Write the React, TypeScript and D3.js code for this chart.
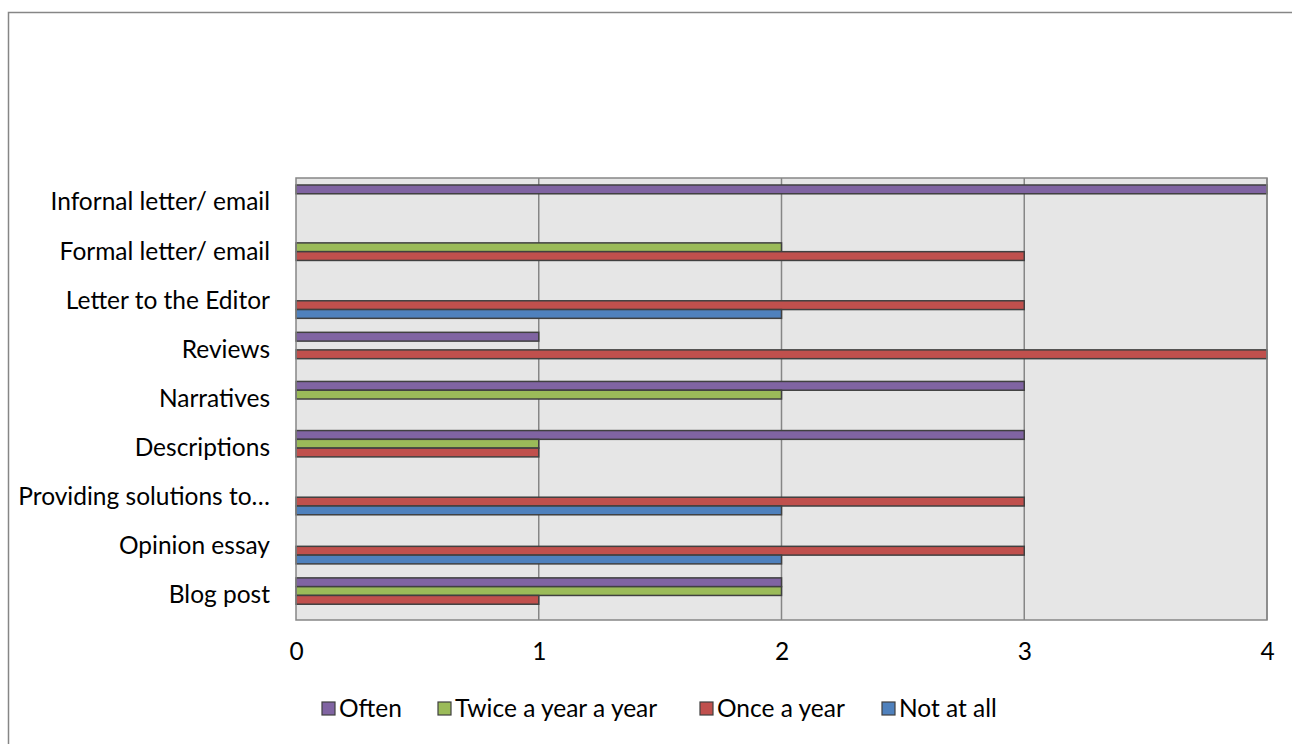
import React, { useEffect, useRef } from "react";
import * as d3 from "d3";

const categories = [
  "Infornal letter/ email",
  "Formal letter/ email",
  "Letter to the Editor",
  "Reviews",
  "Narratives",
  "Descriptions",
  "Providing solutions to…",
  "Opinion essay",
  "Blog post",
];

const seriesNames = ["Often", "Twice a year a year", "Once a year", "Not at all"];
const seriesColors = ["#8064A2", "#9BBB59", "#C0504D", "#4F81BD"];

const often = [4, 0, 0, 1, 3, 3, 0, 0, 2];
const twice = [0, 2, 0, 0, 2, 1, 0, 0, 2];
const once = [0, 3, 3, 4, 0, 1, 3, 3, 1];
const notAtAll = [0, 0, 2, 0, 0, 0, 2, 2, 0];

const xTicks = [0, 1, 2, 3, 4];

const FONT = "Lato, 'Open Sans', sans-serif";
const FS = 24.5;

export default function App() {
  const ref = useRef<SVGSVGElement>(null);

  useEffect(() => {
    const svg = d3.select(ref.current);
    svg.selectAll("*").remove();

    const left = 296, right = 1267, top = 178, bottom = 620;

    // outer chart frame
    svg.append("rect")
      .attr("x", 8.5).attr("y", 12.5)
      .attr("width", 1306).attr("height", 760)
      .attr("fill", "#fff").attr("stroke", "#868686").attr("stroke-width", 1.5);

    const x = d3.scaleLinear().domain([0, 4]).range([left, right]);
    const y = d3.scaleBand().domain(categories).range([top, bottom]).paddingInner(0.285).paddingOuter(0.1425);
    const inner = d3.scaleBand().domain(seriesNames).range([0, y.bandwidth()]);

    svg.append("rect")
      .attr("x", left).attr("y", top)
      .attr("width", right - left).attr("height", bottom - top)
      .attr("fill", "#E6E6E6");

    svg.append("g")
      .selectAll("line")
      .data(xTicks.slice(1))
      .join("line")
      .attr("x1", (d) => x(d)).attr("x2", (d) => x(d))
      .attr("y1", top).attr("y2", bottom)
      .attr("stroke", "#868686").attr("stroke-width", 1.5);

    const values = [often, twice, once, notAtAll];
    seriesNames.forEach((s, si) => {
      svg.append("g")
        .selectAll("rect")
        .data(categories.map((c, i) => ({ c, v: values[si][i] })).filter((d) => d.v > 0))
        .join("rect")
        .attr("x", x(0))
        .attr("y", (d) => (y(d.c) as number) + (inner(s) as number))
        .attr("width", (d) => x(d.v) - x(0))
        .attr("height", inner.bandwidth())
        .attr("fill", seriesColors[si])
        .attr("stroke", "#404040")
        .attr("stroke-width", 1.5);
    });

    // plot border
    svg.append("rect")
      .attr("x", left).attr("y", top)
      .attr("width", right - left).attr("height", bottom - top)
      .attr("fill", "none").attr("stroke", "#868686").attr("stroke-width", 1.5);

    const yAxis = svg.append("g")
      .attr("transform", `translate(${left},0)`)
      .call(d3.axisLeft(y).tickSize(0).tickPadding(26));
    yAxis.select(".domain").remove();
    yAxis.selectAll("text")
      .attr("font-family", FONT).attr("font-size", FS).attr("fill", "#000");

    const xAxis = svg.append("g")
      .attr("transform", `translate(0,${bottom})`)
      .call(d3.axisBottom(x).tickValues(xTicks).tickFormat(d3.format("d")).tickSize(0).tickPadding(23));
    xAxis.select(".domain").remove();
    xAxis.selectAll("text")
      .attr("font-family", FONT).attr("font-size", FS).attr("fill", "#000");

    const legendX = [322, 438, 700, 882];
    const lg = svg.append("g").attr("transform", "translate(0,702)");
    seriesNames.forEach((s, i) => {
      lg.append("rect")
        .attr("x", legendX[i]).attr("y", 0)
        .attr("width", 13).attr("height", 13)
        .attr("fill", seriesColors[i]).attr("stroke", "#404040").attr("stroke-width", 1.2);
      lg.append("text")
        .attr("x", legendX[i] + 17).attr("y", 6.5).attr("dy", "0.35em")
        .attr("font-family", FONT).attr("font-size", FS)
        .text(s);
    });
  }, []);

  return (
    <svg
      ref={ref}
      width={1292}
      height={744}
      style={{ position: "absolute", left: 0, top: 0, background: "#fff" }}
    />
  );
}
